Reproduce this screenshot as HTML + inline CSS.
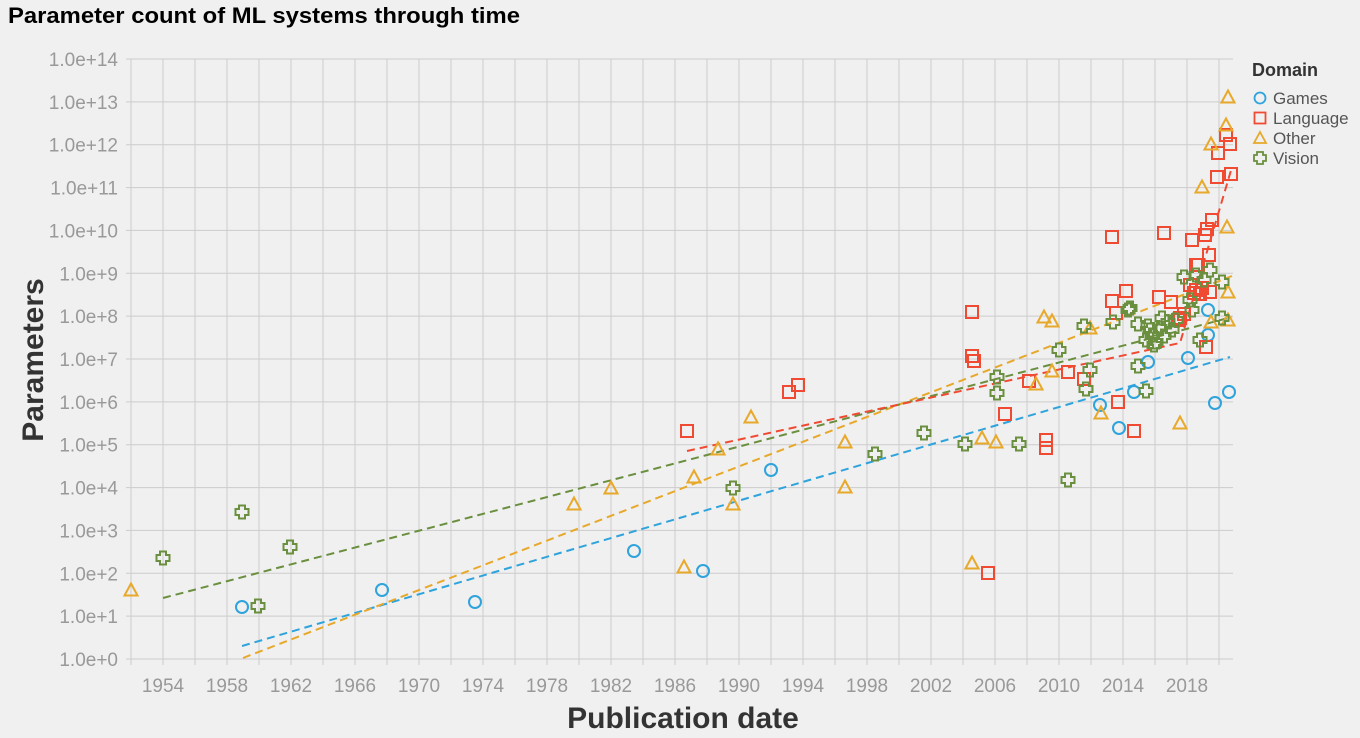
<!DOCTYPE html>
<html><head><meta charset="utf-8"><style>
html,body{margin:0;padding:0;background:#f0f0f0;}
svg{display:block;font-family:"Liberation Sans",sans-serif;}
</style></head><body>
<svg width="1360" height="738" viewBox="0 0 1360 738" xmlns="http://www.w3.org/2000/svg">
<rect width="1360" height="738" fill="#f0f0f0"/>
<text x="8" y="23" font-size="22" font-weight="bold" fill="#000" textLength="512" lengthAdjust="spacingAndGlyphs">Parameter count of ML systems through time</text>
<g id="grid" stroke="#cccccc" stroke-width="1"></g>
<g id="ylab" font-size="19" fill="#999" text-anchor="end"></g>
<g id="xlab" font-size="19" fill="#999" text-anchor="middle"></g>
<text transform="translate(43,360) rotate(-90)" font-size="30" font-weight="bold" fill="#333" text-anchor="middle">Parameters</text>
<text x="683" y="728" font-size="30" font-weight="bold" fill="#333" text-anchor="middle">Publication date</text>
<g fill="none" stroke-width="2" stroke-dasharray="8,5">
<line x1="242" y1="646" x2="1230" y2="357" stroke="#2ea3dc"/>
<line x1="243" y1="658" x2="1232" y2="276" stroke="#e8a82a"/>
<line x1="163" y1="598" x2="1232" y2="317" stroke="#6a8f3e"/>
<polyline points="687,451 1180,343 1232,167" stroke="#f04a32"/>
</g>
<g id="pts" fill="none" stroke-width="2"></g>
<text x="1252" y="76" font-size="18" font-weight="bold" fill="#333">Domain</text>
<g font-size="17" fill="#555">
<circle cx="1260" cy="98" r="5.5" fill="none" stroke="#2ea3dc" stroke-width="1.8"/><text x="1273" y="104">Games</text>
<rect x="1254.5" y="112.5" width="11" height="11" fill="none" stroke="#f04a32" stroke-width="1.8"/><text x="1273" y="124">Language</text>
<polygon points="1260,132 1266,143 1254,143" fill="none" stroke="#e8a82a" stroke-width="1.8"/><text x="1273" y="144">Other</text>
<path d="M1257,152h6v3h3v6h-3v3h-6v-3h-3v-6h3z" fill="none" stroke="#6a8f3e" stroke-width="1.8"/><text x="1273" y="164">Vision</text>
</g>
</svg>
<script>
var ns="http://www.w3.org/2000/svg";
function el(p,t,a,txt){var e=document.createElementNS(ns,t);for(var k in a)e.setAttribute(k,a[k]);if(txt!==undefined)e.textContent=txt;document.getElementById(p).appendChild(e);return e;}
var L=132,R=1233,T=59,B=659;
for(var i=0;i<=14;i++){var y=B-i*(600/14);el("grid","line",{x1:L-6,x2:R,y1:y,y2:y});el("ylab","text",{x:L-14,y:y+7},"1.0e+"+i);}
for(var yr=1952;yr<=2020;yr+=2){var x=163+(yr-1954)*16;el("grid","line",{x1:x,x2:x,y1:T,y2:B+6});if(yr%4==2&&yr>=1954)el("xlab","text",{x:x,y:692},yr);}
var games=[[242,607],[382,590],[475,602],[634,551],[703,571],[771,470],[1100,405],[1119,428],[1134,392],[1148,362],[1188,358],[1208,310],[1208,335],[1215,403],[1229,392]];
var lang=[[687,431],[789,392],[798,385],[972,312],[972,356],[974,361],[988,573],[1005,414],[1029,381],[1046,440],[1046,448],[1068,372],[1084,379],[1112,237],[1112,301],[1116,313],[1118,402],[1126,291],[1134,431],[1159,297],[1164,233],[1171,302],[1180,318],[1184,314],[1192,240],[1194,293],[1196,265],[1198,265],[1200,294],[1205,235],[1207,229],[1209,255],[1212,220],[1206,347],[1218,153],[1217,177],[1226,135],[1230,144],[1231,174],[1190,285],[1196,290],[1202,288],[1210,292],[1178,320]];
var other=[[131,590],[574,504],[611,488],[684,567],[694,477],[718,449],[733,504],[751,417],[845,442],[845,487],[972,563],[982,438],[996,442],[1036,384],[1044,317],[1052,321],[1052,371],[1090,328],[1101,413],[1180,423],[1202,187],[1211,144],[1226,125],[1228,97],[1227,227],[1228,292],[1228,320],[1211,322]];
var vis=[[163,558],[242,512],[258,606],[290,547],[733,488],[875,454],[924,433],[965,444],[997,377],[997,393],[1019,444],[1059,350],[1068,480],[1084,326],[1086,389],[1090,370],[1113,322],[1128,310],[1130,308],[1138,324],[1138,366],[1146,391],[1146,340],[1150,330],[1152,335],[1156,342],[1160,328],[1162,318],[1164,336],[1168,322],[1172,330],[1176,320],[1148,326],[1154,345],[1184,277],[1190,300],[1196,275],[1200,340],[1210,270],[1222,282],[1222,318],[1204,280],[1192,310]];
games.forEach(function(p){el("pts","circle",{cx:p[0],cy:p[1],r:6,stroke:"#2ea3dc"});});
lang.forEach(function(p){el("pts","rect",{x:p[0]-6,y:p[1]-6,width:12,height:12,stroke:"#f04a32"});});
other.forEach(function(p){el("pts","polygon",{points:(p[0])+","+(p[1]-6.5)+" "+(p[0]+6.5)+","+(p[1]+5.5)+" "+(p[0]-6.5)+","+(p[1]+5.5),stroke:"#e8a82a"});});
vis.forEach(function(p){var x=p[0]-3,y=p[1]-6.5;el("pts","path",{d:"M"+x+","+y+"h6v3.5h3.5v6h-3.5v3.5h-6v-3.5h-3.5v-6h3.5z",stroke:"#6a8f3e"});});
</script>
</body></html>
